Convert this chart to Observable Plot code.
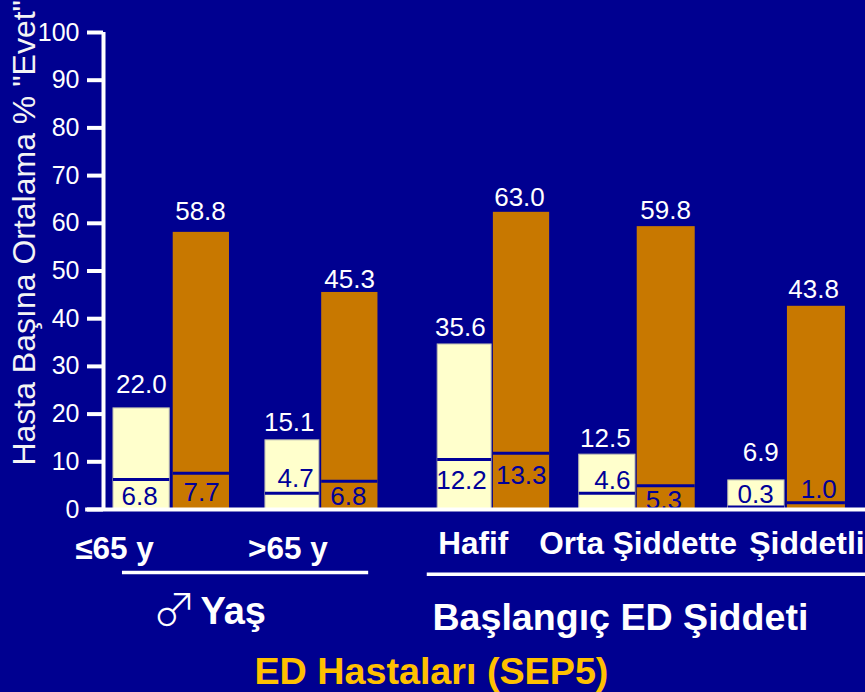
<!DOCTYPE html>
<html><head><meta charset="utf-8">
<style>html,body{margin:0;padding:0;background:#000090;overflow:hidden}</style>
<script src="https://cdn.jsdelivr.net/npm/d3@7"></script>
<script src="https://cdn.jsdelivr.net/npm/@observablehq/plot@0.6"></script>
</head><body><div id="c"></div>
<script>
// slot of each bar on the x axis
const barSlot = [0, 1.03, 2.62, 3.59, 5.59, 6.55, 8.03, 9.03, 10.60, 11.62];
const barSpan = [.97, .97, .93, .97, .93, .97, .97, 1, .97, 1];
const barKind = ["a","b","a","b","a","b","a","b","a","b"];
// bar heights and inner divider levels
const barTop = [21.2, 58.1, 14.5, 45.5, 34.6, 62.3, 11.5, 59.3, 6.1, 42.6];
const innerLevel = [6.3, 7.6, 3.4, 5.9, 10.5, 11.8, 3.4, 5.0, 0.5, 1.4];
// printed labels
const topText = ["22.0","58.8","15.1","45.3","35.6","63.0","12.5","59.8","6.9","43.8"];
const innerText = ["6.8","7.7","4.7","6.8","12.2","13.3","4.6","5.3","0.3","1.0"];
const topTextSlot = [.48,1.5,3.03,4.07,5.98,7.0,8.48,9.52,11.16,12.07];
const topTextLevel = [24.5,60.6,16.4,46.5,36.3,63.7,13.2,60.8,10.1,44.4];
const innerTextSlot = [.45,1.52,3.14,4.05,6.0,7.03,8.6,9.49,11.07,12.16];
const innerTextLevel = [.84,1.74,4.68,.84,4.4,5.45,4.4,.2,1.26,2.5];
const yTicks = [0,10,20,30,40,50,60,70,80,90,100];
const yTitle = 'Hasta Başına Ortalama % "Evet"';
const groupLabels = [
  {t:"≤65 y", s:-0.66, l:-10.4, size:31.5},
  {t:">65 y", s:2.32, l:-10.4, size:31.5},
  {t:"Hafif", s:5.6, l:-9.4, size:31.5},
  {t:"Orta Şiddette", s:7.34, l:-9.4, size:31.5},
  {t:"Şiddetli", s:10.96, l:-9.4, size:32},
  {t:"Yaş", s:1.5, l:-23.9, size:38},
  {t:"Başlangıç ED Şiddeti", s:5.5, l:-25.3, size:37.6}
];
const width = 865, height = 692;
const rows = barSlot.map((s,i)=>({s, e:s+barSpan[i], k:barKind[i], top:barTop[i], inner:innerLevel[i]}));
const topRows = topText.map((t,i)=>({t, s:topTextSlot[i], l:topTextLevel[i]}));
const innerRows = innerText.map((t,i)=>({t, s:innerTextSlot[i], l:innerTextLevel[i]}));

const chart = Plot.plot({
  width, height,
  marginLeft:103, marginRight:0, marginTop:32, marginBottom:183,
  style:{background:"#000090", fontFamily:"'Liberation Sans', Arial, sans-serif", overflow:"visible"},
  x:{domain:[-0.172,12.966], axis:null},
  y:{domain:[0,100], axis:null},
  marks:[
    Plot.rect(rows.filter(d=>d.k==="a"),{x1:"s",x2:"e",y1:0,y2:"top",fill:"#FFFFCC",stroke:"#b9b9b0",strokeWidth:1}),
    Plot.rect(rows.filter(d=>d.k==="b"),{x1:"s",x2:"e",y1:0,y2:"top",fill:"#C87800"}),
    Plot.ruleY(rows,{y:"inner",x1:"s",x2:"e",stroke:"#000099",strokeWidth:3}),
    Plot.text(topRows,{x:"s",y:"l",text:"t",fill:"white",fontSize:26,lineAnchor:"bottom"}),
    Plot.text(innerRows,{x:"s",y:"l",text:"t",fill:"#000099",fontSize:26,lineAnchor:"bottom"}),
    Plot.axisY({anchor:"left",ticks:yTicks,tickSize:16,tickPadding:8,stroke:"white",strokeWidth:4,fill:"white",fontSize:25,label:null}),
    Plot.ruleX([-0.172],{y1:0,y2:100,stroke:"white",strokeWidth:4}),
    Plot.ruleY([0],{x1:-0.48,x2:12.966,stroke:"white",strokeWidth:4}),
    Plot.text([yTitle],{x:-1.53,y:58,text:d=>d,rotate:-90,fill:"#f4f4f4",fontSize:32,textAnchor:"middle",lineAnchor:"middle"}),
    Plot.text(groupLabels,{x:"s",y:"l",text:"t",fill:"white",fontSize:d=>d.size,fontWeight:"bold",textAnchor:"start",lineAnchor:"bottom"}),
    Plot.ruleY([-13.2],{x1:0.155,x2:4.4,stroke:"white",strokeWidth:3.5}),
    Plot.ruleY([-13.6],{x1:5.41,x2:12.966,stroke:"white",strokeWidth:3.5}),
    Plot.text(["♂"],{x:1.05,y:-24.4,text:d=>d,fill:"white",fontSize:44,fontFamily:"'Noto Sans CJK JP'",fontWeight:300,textAnchor:"middle",lineAnchor:"bottom"}),
    Plot.text(["ED Hastaları (SEP5)"],{x:2.43,y:-36.5,text:d=>d,fill:"#FFC000",fontSize:37.7,fontWeight:"bold",textAnchor:"start",lineAnchor:"bottom"})
  ]
});
document.getElementById("c").appendChild(chart);
</script></body></html>
